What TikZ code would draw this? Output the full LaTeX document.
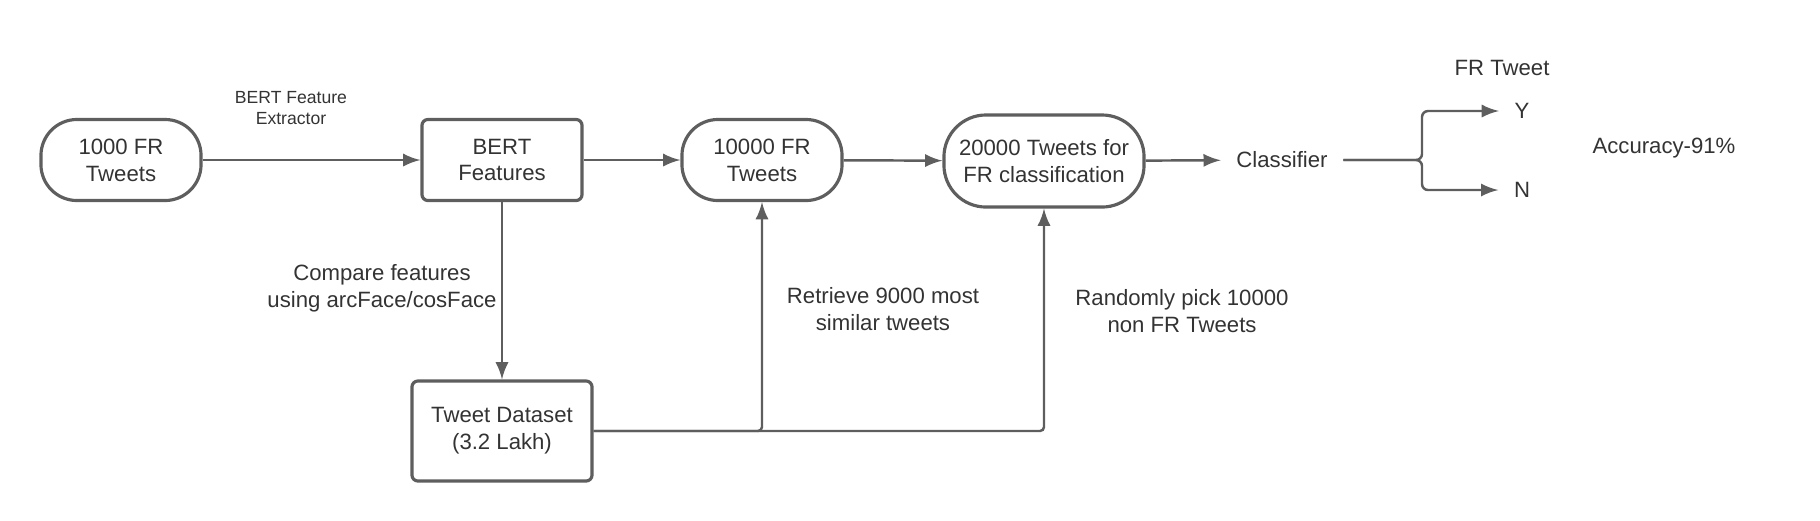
\documentclass[tikz,border=0pt]{standalone}
\usepackage{fontspec}
\setmainfont{Liberation Sans}
\definecolor{linegray}{HTML}{5E5E5E}
\definecolor{textgray}{HTML}{333333}
\tikzset{
	flow/.style={draw=linegray,line width=0.9pt,text=textgray,align=center,inner sep=0pt},
	terminal/.style={flow,rounded corners=0.36cm},
	procbox/.style={flow,rounded corners=0.06cm},
	lbl/.style={text=textgray,align=center,inner sep=0.15cm},
	link/.style={color=linegray,line width=0.7pt},
}
\newcommand{\bodyfont}{\fontsize{6.3pt}{7.6pt}\selectfont}
\newcommand{\smallfont}{\fontsize{5pt}{6pt}\selectfont}
\begin{document}
\begin{tikzpicture}[>=latex,x=0.01cm,y=-0.01cm,font=\bodyfont]
\useasboundingbox (0,0) rectangle (1820,520);
% top row
\node[terminal,minimum width=1.6cm,minimum height=0.81cm] (fr1k) at (121,160) {1000 FR\\Tweets};
\node[procbox,minimum width=1.6cm,minimum height=0.81cm] (bert) at (502,160) {BERT\\Features};
\node[terminal,minimum width=1.6cm,minimum height=0.81cm] (fr10k) at (762,160) {10000 FR\\Tweets};
\node[terminal,minimum width=2.0cm,minimum height=0.92cm,rounded corners=0.42cm] (all) at (1044,161) {20000 Tweets for\\FR classification};
\node[lbl] (cls) at (1282,160) {Classifier};
\coordinate (split) at (1422,160);
\node[lbl] (yes) at (1522,111) {Y};
\node[lbl] (no) at (1522,190) {N};
\node[lbl] (frt) at (1502,68) {FR Tweet};
\node[lbl] (acc) at (1664,148) {Accuracy-91\%};
% bottom
\node[procbox,minimum width=1.8cm,minimum height=1.0cm] (data) at (502,431) {Tweet Dataset\\(3.2 Lakh)};
% edge labels
\node[lbl,font=\smallfont] (ext) at (291,108) {BERT Feature\\Extractor};
\node[lbl] (cmp) at (382,288) {Compare features\\using arcFace/cosFace};
\node[lbl] (ret) at (883,309) {Retrieve 9000 most\\similar tweets};
\node[lbl] (rnd) at (1182,311) {Randomly pick 10000\\non FR Tweets};
% connectors
\draw[link,->] (fr1k) -- (bert);
\draw[link,->] (bert) -- (fr10k);
\draw[link,->] (fr10k) -- (all);
\draw[link,->] (all) -- (cls);
\draw[link,->,rounded corners=0.06cm] (cls.east) -- (split) |- (yes.west);
\draw[link,->,rounded corners=0.06cm] (cls.east) -- (split) |- (no.west);
\draw[link,->] (bert) -- (data);
\draw[link,->,rounded corners=0.04cm] (data.east) -| (fr10k.south);
\draw[link,->,rounded corners=0.04cm] (data.east) -| (all.south);
\end{tikzpicture}
\end{document}
